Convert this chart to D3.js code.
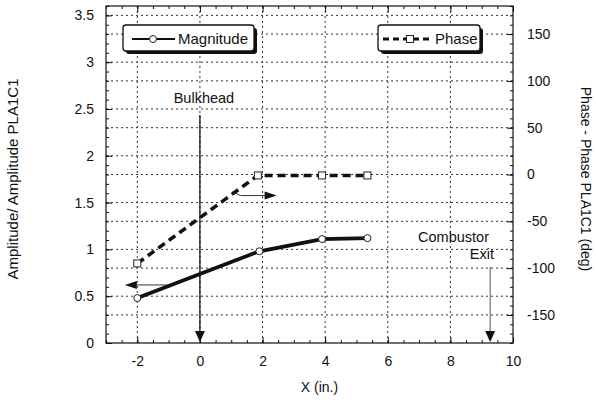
<!DOCTYPE html>
<html lang="en">
<head>
<meta charset="utf-8">
<script src="https://d3js.org/d3.v7.min.js"></script>
<style>
  body { margin: 0; background: #fff; }
  text { font-family: "Liberation Sans", Arial, sans-serif; fill: #111; }
</style>
</head>
<body>
<script>
// data
var magX = [-2, 1.9, 3.9, 5.35];
var magY = [0.48, 0.98, 1.11, 1.12];
var phaseX = [-2, 1.85, 3.9, 5.35];
var phaseY = [-95, -1, -1, -1];

var xTicks = [-2, 0, 2, 4, 6, 8, 10];
var ampTicks = [0, 0.5, 1, 1.5, 2, 2.5, 3, 3.5];
var phaseTicks = [-150, -100, -50, 0, 50, 100, 150];

var width = 596, height = 406;
var pL = 106, pR = 513, pT = 6, pB = 343;

var x = d3.scaleLinear().domain([-3, 10]).range([pL, pR]);
var yL = d3.scaleLinear().domain([0, 3.6]).range([pB, pT]);
var yR = d3.scaleLinear().domain([-180, 180]).range([pB, pT]);

var svg = d3.select("body").append("svg")
    .attr("width", width)
    .attr("height", height);

var fmt = function(d) { return String(d); };

// grid
var grid = svg.append("g")
    .attr("stroke", "#333")
    .attr("stroke-width", 1)
    .attr("stroke-dasharray", "2,3");

grid.selectAll(".vx")
    .data(xTicks.filter(function(d) { return d < 10; }))
    .enter().append("line")
    .attr("x1", function(d) { return x(d); })
    .attr("x2", function(d) { return x(d); })
    .attr("y1", pT)
    .attr("y2", pB);

grid.selectAll(".hl")
    .data(ampTicks.filter(function(d) { return d > 0; }))
    .enter().append("line")
    .attr("x1", pL).attr("x2", pR)
    .attr("y1", function(d) { return yL(d); })
    .attr("y2", function(d) { return yL(d); });

grid.selectAll(".hr")
    .data(phaseTicks)
    .enter().append("line")
    .attr("x1", pL).attr("x2", pR)
    .attr("y1", function(d) { return yR(d); })
    .attr("y2", function(d) { return yR(d); });

// axes
function styleAxis(g) {
    g.select(".domain").remove();
    g.selectAll("line").attr("stroke", "#111");
    g.selectAll("text").style("font-size", "14px").attr("fill", "#111");
}

svg.append("g")
    .attr("transform", "translate(0," + pB + ")")
    .call(d3.axisBottom(x).tickValues(d3.range(-3, 10.01, 0.5)).tickSize(-3).tickFormat(""))
    .call(styleAxis);
svg.append("g")
    .attr("transform", "translate(0," + pB + ")")
    .call(d3.axisBottom(x).tickValues(xTicks).tickSize(-6).tickPadding(13).tickFormat(fmt))
    .call(styleAxis);

svg.append("g")
    .attr("transform", "translate(0," + pT + ")")
    .call(d3.axisTop(x).tickValues(d3.range(-3, 10.01, 0.5)).tickSize(-3).tickFormat(""))
    .call(styleAxis);
svg.append("g")
    .attr("transform", "translate(0," + pT + ")")
    .call(d3.axisTop(x).tickValues(xTicks).tickSize(-6).tickFormat(""))
    .call(styleAxis);

svg.append("g")
    .attr("transform", "translate(" + pL + ",0)")
    .call(d3.axisLeft(yL).tickValues(d3.range(0, 3.61, 0.1)).tickSize(-3).tickFormat(""))
    .call(styleAxis);
svg.append("g")
    .attr("transform", "translate(" + pL + ",0)")
    .call(d3.axisLeft(yL).tickValues(ampTicks).tickSize(-6).tickPadding(12).tickFormat(fmt))
    .call(styleAxis);

svg.append("g")
    .attr("transform", "translate(" + pR + ",0)")
    .call(d3.axisRight(yR).tickValues(d3.range(-180, 180.1, 10)).tickSize(-3).tickFormat(""))
    .call(styleAxis);
svg.append("g")
    .attr("transform", "translate(" + pR + ",0)")
    .call(d3.axisRight(yR).tickValues(phaseTicks).tickSize(-6).tickPadding(14).tickFormat(fmt))
    .call(styleAxis);

// frame
svg.append("rect")
    .attr("x", pL).attr("y", pT)
    .attr("width", pR - pL).attr("height", pB - pT)
    .attr("fill", "none")
    .attr("stroke", "#111")
    .attr("stroke-width", 1.2);

// axis titles
svg.append("text")
    .attr("transform", "translate(18,179) rotate(-90)")
    .attr("text-anchor", "middle")
    .style("font-size", "15px")
    .text("Amplitude/ Amplitude PLA1C1");

svg.append("text")
    .attr("transform", "translate(581,179) rotate(90)")
    .attr("text-anchor", "middle")
    .style("font-size", "14px")
    .text("Phase - Phase PLA1C1 (deg)");

svg.append("text")
    .attr("x", (pL + pR) / 2 + 10)
    .attr("y", 392)
    .attr("text-anchor", "middle")
    .style("font-size", "14px")
    .text("X (in.)");

// annotations
function arrowDown(px, y1, color, w) {
    svg.append("line")
        .attr("x1", px).attr("x2", px)
        .attr("y1", y1).attr("y2", pB - 8)
        .attr("stroke", color).attr("stroke-width", w);
    svg.append("path")
        .attr("d", "M" + (px - 5) + "," + (pB - 12) + "L" + (px + 5) + "," + (pB - 12) + "L" + px + "," + (pB - 1) + "Z")
        .attr("fill", "#111");
}
arrowDown(x(0), 115, "#111", 1.3);
arrowDown(x(9.27), 267, "#555", 1);

svg.append("text")
    .attr("x", x(0) + 4).attr("y", 103)
    .attr("text-anchor", "middle")
    .style("font-size", "14.5px")
    .text("Bulkhead");

svg.append("text")
    .attr("x", 489).attr("y", 242)
    .attr("text-anchor", "end")
    .style("font-size", "14.5px")
    .text("Combustor");
svg.append("text")
    .attr("x", 494).attr("y", 259)
    .attr("text-anchor", "end")
    .style("font-size", "14.5px")
    .text("Exit");

// magnitude pointer to left axis
var la = { x1: -1.05, x2: -2.4, y: 0.62 };
svg.append("line")
    .attr("x1", x(la.x1)).attr("x2", x(la.x2) + 10)
    .attr("y1", yL(la.y)).attr("y2", yL(la.y))
    .attr("stroke", "#333").attr("stroke-width", 1);
svg.append("path")
    .attr("d", "M" + x(la.x2) + "," + yL(la.y) + "l12,-4l0,8Z")
    .attr("fill", "#111");

// phase pointer to right axis
var ra = [[1.03, -18.5], [1.3, -22.5], [2.45, -22.5]];
svg.append("path")
    .attr("d", d3.line().x(function(d) { return x(d[0]); }).y(function(d) { return yR(d[1]); })(ra.slice(0, 2).concat([[2.1, -22.5]])))
    .attr("fill", "none")
    .attr("stroke", "#333").attr("stroke-width", 1);
svg.append("path")
    .attr("d", "M" + x(ra[2][0]) + "," + yR(ra[2][1]) + "l-12,-4l0,8Z")
    .attr("fill", "#111");

// series
var mag = magX.map(function(d, i) { return [d, magY[i]]; });
var phase = phaseX.map(function(d, i) { return [d, phaseY[i]]; });

svg.append("path")
    .attr("d", d3.line().x(function(d) { return x(d[0]); }).y(function(d) { return yR(d[1]); })(phase))
    .attr("fill", "none")
    .attr("stroke", "#111")
    .attr("stroke-width", 3.5)
    .attr("stroke-dasharray", "8,5");

svg.append("path")
    .attr("d", d3.line().x(function(d) { return x(d[0]); }).y(function(d) { return yL(d[1]); })(mag))
    .attr("fill", "none")
    .attr("stroke", "#111")
    .attr("stroke-width", 3.8);

svg.selectAll(".sq")
    .data(phase)
    .enter().append("rect")
    .attr("x", function(d) { return x(d[0]) - 3.5; })
    .attr("y", function(d) { return yR(d[1]) - 3.5; })
    .attr("width", 7).attr("height", 7)
    .attr("fill", "#fff")
    .attr("stroke", "#222")
    .attr("stroke-width", 1);

svg.selectAll(".ci")
    .data(mag)
    .enter().append("circle")
    .attr("cx", function(d) { return x(d[0]); })
    .attr("cy", function(d) { return yL(d[1]); })
    .attr("r", 3.5)
    .attr("fill", "#fff")
    .attr("stroke", "#222")
    .attr("stroke-width", 1);

// legends
function legendBox(bx, by, bw, bh) {
    svg.append("rect")
        .attr("x", bx + 3).attr("y", by + 3)
        .attr("width", bw).attr("height", bh)
        .attr("rx", 3).attr("fill", "#111");
    svg.append("rect")
        .attr("x", bx).attr("y", by)
        .attr("width", bw).attr("height", bh)
        .attr("rx", 3).attr("fill", "#fff")
        .attr("stroke", "#111").attr("stroke-width", 1.3);
}

legendBox(123, 25, 131, 26);
svg.append("line")
    .attr("x1", 132).attr("x2", 175).attr("y1", 39).attr("y2", 39)
    .attr("stroke", "#111").attr("stroke-width", 2);
svg.append("circle")
    .attr("cx", 153).attr("cy", 39).attr("r", 3.5)
    .attr("fill", "#fff").attr("stroke", "#222");
svg.append("text")
    .attr("x", 178).attr("y", 44)
    .style("font-size", "15px")
    .text("Magnitude");

legendBox(378, 25, 102, 26);
svg.append("line")
    .attr("x1", 383).attr("x2", 432).attr("y1", 39).attr("y2", 39)
    .attr("stroke", "#111").attr("stroke-width", 3)
    .attr("stroke-dasharray", "6,4");
svg.append("rect")
    .attr("x", 406.5).attr("y", 35.5).attr("width", 7).attr("height", 7)
    .attr("fill", "#fff").attr("stroke", "#222");
svg.append("text")
    .attr("x", 435).attr("y", 44)
    .style("font-size", "15px")
    .text("Phase");
</script>
</body>
</html>
